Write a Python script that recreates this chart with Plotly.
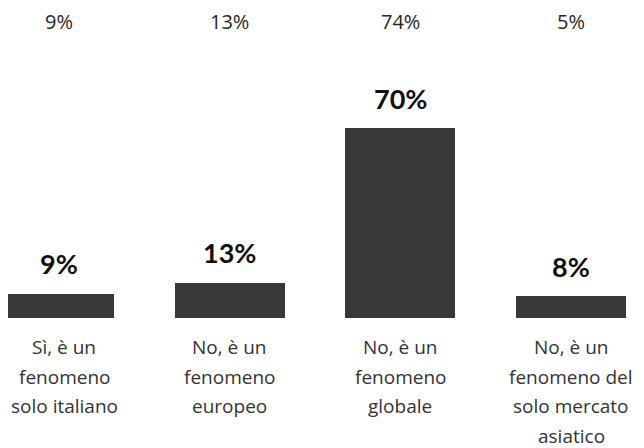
import plotly.graph_objects as go

categories = ["Sì, è un<br>fenomeno<br>solo italiano",
              "No, è un<br>fenomeno<br>europeo",
              "No, è un<br>fenomeno<br>globale",
              "No, è un<br>fenomeno del<br>solo mercato<br>asiatico"]
values = [9, 13, 70, 8]
top_values = [9, 13, 74, 5]

BAR = "#3a3837"
xs = list(range(len(categories)))

# page body has an 8px margin; compensate so marks land where the reference has them
OFF = 8
PX_H = 318.0 - OFF          # plot-area height in figure pixels
PX_PER_UNIT = 190 / 70      # pixels per percentage point
Y_MAX = PX_H / PX_PER_UNIT

fig = go.Figure()
fig.add_trace(go.Bar(x=xs, y=values, width=0.645, marker=dict(color=BAR, line=dict(width=0)),
                     hoverinfo="skip"))

ann = []
for i, v in enumerate(values):
    ann.append(dict(x=i, y=v, xref="x", yref="y", text=f"<b>{v}%</b>", showarrow=False,
                    yanchor="middle", yshift=30,
                    font=dict(family="Lato, Open Sans, sans-serif", size=27, color="#111111")))
for i, v in enumerate(top_values):
    ann.append(dict(x=i, y=1 - (21 - OFF) / PX_H, xref="x", yref="paper", text=f"{v}%",
                    showarrow=False, yanchor="middle", borderpad=0,
                    font=dict(family="Open Sans, sans-serif", size=20, color="#262626")))
for i, c in enumerate(categories):
    for j, line in enumerate(c.split("<br>")):
        ann.append(dict(x=i, y=0, xref="x", yref="paper", text=line, showarrow=False,
                        yanchor="middle", yshift=-(29 + 29.5 * j), borderpad=0,
                        xshift=5 if i == 0 else 0,
                        font=dict(family="Open Sans, sans-serif", size=19, color="#333333")))

px_per = 170.67
c0 = 59 - OFF
fig.update_layout(
    width=644, height=448,
    margin=dict(l=0, r=0, t=0, b=448 - PX_H),
    paper_bgcolor="white", plot_bgcolor="white",
    showlegend=False,
    bargap=0,
    xaxis=dict(range=[-c0 / px_per, 3 + (644 - c0 - 3 * px_per) / px_per], showticklabels=False,
               showgrid=False, zeroline=False, showline=False, fixedrange=True),
    yaxis=dict(range=[0, Y_MAX], showticklabels=False, showgrid=False, zeroline=False,
               showline=False, fixedrange=True),
    annotations=ann,
)
fig.write_html("out.html")
